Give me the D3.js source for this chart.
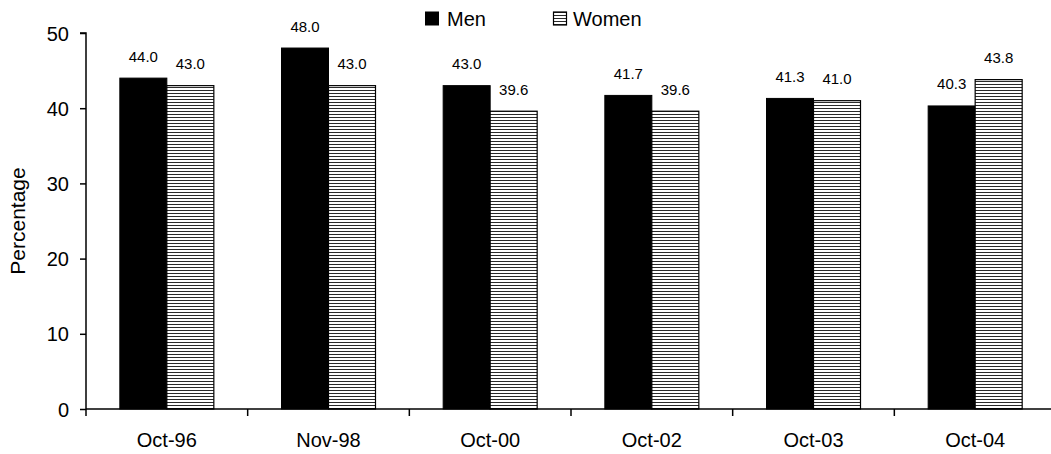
<!DOCTYPE html>
<html><head><meta charset="utf-8">
<script src="https://cdn.jsdelivr.net/npm/d3@7"></script>
<style>body{margin:0;background:#fff;} text{font-family:"Liberation Sans",Arial,sans-serif;fill:#000;}</style>
</head><body>
<svg id="c" width="1051" height="454"></svg>
<script>
const categories = ["Oct-96","Nov-98","Oct-00","Oct-02","Oct-03","Oct-04"];
const men = [44.0,48.0,43.0,41.7,41.3,40.3];
const women = [43.0,43.0,39.6,39.6,41.0,43.8];
const yTicks = [0,10,20,30,40,50];

(function(){
const FF = "Liberation Sans, Arial, sans-serif";
const svg = d3.select("#c");
const defs = svg.append("defs");
const pat = defs.append("pattern").attr("id","hstripe").attr("patternUnits","userSpaceOnUse")
  .attr("width",6).attr("height",3);
pat.append("rect").attr("width",6).attr("height",3).attr("fill","#fff");
pat.append("rect").attr("y",0).attr("width",6).attr("height",1).attr("fill","#2a2a2a");

const pl=86, pr=1056, pt=33, pb=409;
const x = d3.scaleBand().domain(categories).range([pl,pr]);
const y = d3.scaleLinear().domain([0,50]).range([pb,pt]);
const bw = 47;

// bars
const g = svg.append("g");
categories.forEach((c,i)=>{
  const cx = x(c)+x.bandwidth()/2;
  g.append("rect").attr("x",cx-bw).attr("y",y(men[i])).attr("width",bw).attr("height",y(0)-y(men[i]))
    .attr("fill","#000").attr("stroke","#000").attr("stroke-width",1);
  g.append("rect").attr("x",cx).attr("y",y(women[i])).attr("width",bw).attr("height",y(0)-y(women[i]))
    .attr("fill","url(#hstripe)").attr("stroke","#000").attr("stroke-width",1.2);
  g.append("text").attr("x",cx-bw/2).attr("y",y(men[i])-16.5).attr("text-anchor","middle")
    .attr("font-size",15).text(men[i].toFixed(1));
  g.append("text").attr("x",cx+bw/2).attr("y",y(women[i])-16.5).attr("text-anchor","middle")
    .attr("font-size",15).text(women[i].toFixed(1));
});

// y axis
const ya = svg.append("g").attr("transform",`translate(${pl},0)`)
  .call(d3.axisLeft(y).tickValues(yTicks).tickSize(6).tickPadding(11).tickFormat(d3.format("d")));
ya.selectAll("text").attr("font-size",20).attr("fill","#000").attr("font-family",FF).attr("dy","0.35em");
ya.selectAll("line,path").attr("stroke","#000").attr("stroke-width",1.5);
ya.select("path").attr("d",`M-6,${pt}H0V${pb}`);

// x axis
const xa = svg.append("g").attr("transform",`translate(0,${pb})`)
  .call(d3.axisBottom(x).tickSize(0).tickPadding(24));
xa.select("path").attr("d",`M${pl},0H1051`).attr("stroke","#000").attr("stroke-width",1.5);
xa.selectAll("text").attr("font-size",20).attr("fill","#000").attr("font-family",FF)
  .attr("y",38).attr("dy",0);
const bounds = categories.map(c=>x(c)).concat([pr]);
svg.append("g").selectAll("line").data(bounds).join("line")
  .attr("x1",d=>d).attr("x2",d=>d).attr("y1",pb).attr("y2",pb+7)
  .attr("stroke","#000").attr("stroke-width",1.5);

// y title
svg.append("text").attr("transform","translate(25,221) rotate(-90)").attr("text-anchor","middle")
  .attr("font-size",21).text("Percentage");

// legend
const leg = svg.append("g");
leg.append("rect").attr("x",425).attr("y",11.5).attr("width",14).attr("height",14).attr("fill","#000");
leg.append("text").attr("x",447).attr("y",26).attr("font-size",20).text("Men");
leg.append("rect").attr("x",553.5).attr("y",12).attr("width",13).attr("height",13)
  .attr("fill","url(#hstripe)").attr("stroke","#000").attr("stroke-width",1.2);
leg.append("text").attr("x",573).attr("y",26).attr("font-size",20).text("Women");
})();
</script>
</body></html>
